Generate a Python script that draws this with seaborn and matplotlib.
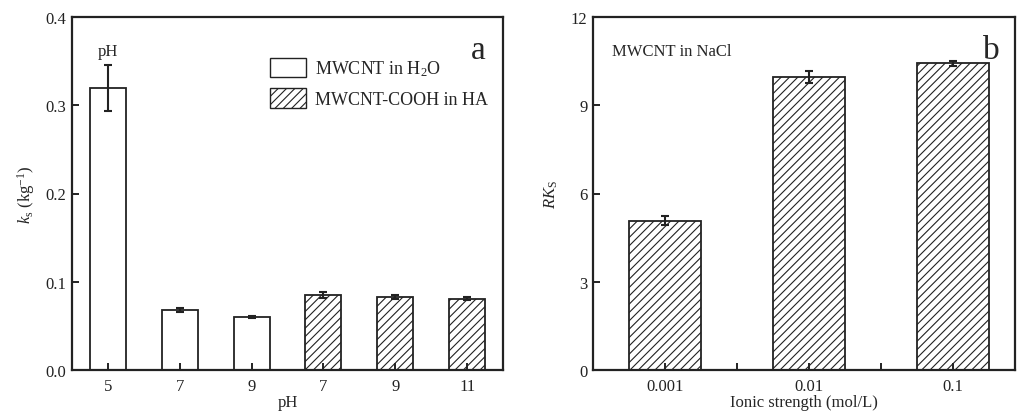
import matplotlib
matplotlib.use("Agg")
import matplotlib.pyplot as plt
from matplotlib.patches import Patch
import numpy as np
import pandas as pd
import seaborn as sns

# Panel a: sedimentation constants at different pH
ph_labels = ["5", "7", "9", "7", "9", "11"]
ph_groups = ["MWCNT in H$_2$O"] * 3 + ["MWCNT-COOH in HA"] * 3
ks_values = [0.320, 0.068, 0.060, 0.085, 0.083, 0.081]
ks_errors = [0.026, 0.002, 0.001, 0.003, 0.002, 0.002]

# Panel b: relative constants vs ionic strength
ionic_labels = ["0.001", "0.01", "0.1"]
rks_values = [5.08, 9.95, 10.42]
rks_errors = [0.15, 0.20, 0.08]

sns.set_theme(style="ticks")
plt.rcParams["font.family"] = ["Liberation Serif", "DejaVu Serif"]
plt.rcParams["mathtext.fontset"] = "custom"
plt.rcParams["mathtext.rm"] = "Liberation Serif"
plt.rcParams["mathtext.it"] = "Liberation Serif:italic"
plt.rcParams["hatch.color"] = "#333333"
plt.rcParams["hatch.linewidth"] = 0.8

fig = plt.figure(figsize=(10.17, 4.14), dpi=100)
ax1 = fig.add_axes([72 / 1017, 1 - 371 / 414, 431 / 1017, 353 / 414])
ax2 = fig.add_axes([593 / 1017, 1 - 371 / 414, 422 / 1017, 353 / 414])

edge = "#222222"
hatch_of = {"MWCNT in H$_2$O": "", "MWCNT-COOH in HA": "////"}

# ---- panel a ----
df_a = pd.DataFrame({
    "pos": [str(i) for i in range(len(ks_values))],
    "group": ph_groups,
    "ks": ks_values,
})
sns.barplot(data=df_a, x="pos", y="ks", hue="group", dodge=False, width=0.5,
            palette=["white", "white"], edgecolor=edge, linewidth=1.3,
            errorbar=None, legend=False, ax=ax1)
for patch, grp in zip(ax1.patches, ph_groups):
    patch.set_hatch(hatch_of[grp])
ax1.errorbar(range(len(ks_values)), ks_values, yerr=ks_errors, fmt="none",
             ecolor="#222222", elinewidth=1.5, capsize=3, capthick=1.5)
ax1.set_xlim(-0.5, 5.5)
ax1.set_ylim(0, 0.4)
ax1.set_yticks([0.0, 0.1, 0.2, 0.3, 0.4])
ax1.set_xticks(range(len(ph_labels)))
ax1.set_xticklabels(ph_labels)
ax1.set_xlabel("pH", fontsize=12, labelpad=0)
ax1.set_ylabel("$k_\\mathrm{s}$ (kg$^{-1}$)", fontsize=12, labelpad=6)
ax1.text(0, 0.352, "pH", ha="center", va="bottom", fontsize=12)
ax1.text(0.96, 0.95, "a", transform=ax1.transAxes, ha="right", va="top", fontsize=24)
handles = [Patch(facecolor="white", edgecolor=edge, hatch=hatch_of[g], label=g)
           for g in ["MWCNT in H$_2$O", "MWCNT-COOH in HA"]]
ax1.legend(handles=handles, loc="upper right", bbox_to_anchor=(0.982, 0.905), frameon=False,
           fontsize=13, handlelength=2.0, handleheight=1.3, handletextpad=0.5,
           labelspacing=0.55, borderaxespad=0)

# ---- panel b ----
df_b = pd.DataFrame({"ionic": ionic_labels, "rks": rks_values})
sns.barplot(data=df_b, x="ionic", y="rks", color="white", width=0.5,
            edgecolor=edge, linewidth=1.3, hatch="////", errorbar=None, ax=ax2)
ax2.errorbar(range(len(rks_values)), rks_values, yerr=rks_errors, fmt="none",
             ecolor="#222222", elinewidth=1.5, capsize=3, capthick=1.5)
ax2.set_xlim(-0.5, 2.43)
ax2.set_ylim(0, 12)
ax2.set_yticks([0, 3, 6, 9, 12])
ax2.set_xticks(range(len(ionic_labels)))
ax2.set_xticklabels(ionic_labels)
ax2.set_xticks([0.5, 1.5], minor=True)
ax2.set_xlabel("Ionic strength (mol/L)", fontsize=12, labelpad=0)
ax2.set_ylabel("$RK_\\mathrm{S}$", fontsize=12, labelpad=8)
ax2.text(0.045, 0.925, "MWCNT in NaCl", transform=ax2.transAxes, ha="left", va="top", fontsize=12)
ax2.text(0.965, 0.95, "b", transform=ax2.transAxes, ha="right", va="top", fontsize=24)

for ax in (ax1, ax2):
    ax.set_axisbelow(False)
    for side in ("left", "right", "top", "bottom"):
        ax.spines[side].set_visible(True)
        ax.spines[side].set_linewidth(1.6)
        ax.spines[side].set_color("#222222")
    ax.tick_params(axis="both", which="both", direction="in", length=5, width=1.4,
                   labelsize=12, colors="#222222", top=False, right=False)
    ax.tick_params(axis="x", pad=6)
    ax.tick_params(axis="y", pad=4)
    for lab in ax.get_xticklabels() + ax.get_yticklabels():
        lab.set_color("#222222")

fig.savefig("out.png", dpi=100)
